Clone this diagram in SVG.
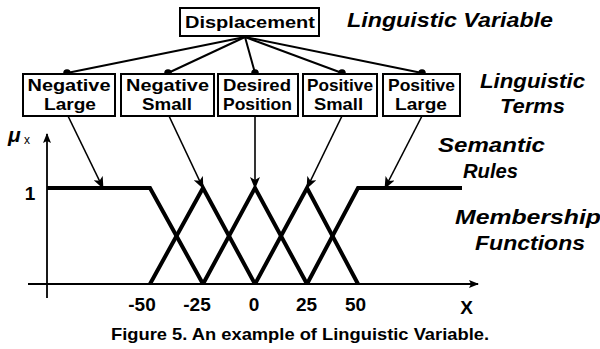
<svg xmlns="http://www.w3.org/2000/svg" width="600" height="349" viewBox="0 0 600 349">
<style>
.box{fill:#fff;stroke:#000;stroke-width:2}
.bt{font-family:"Liberation Sans",Arial,sans-serif;font-weight:bold;font-size:16.5px;text-anchor:middle;fill:#000}
.lab{font-family:"Liberation Sans",Arial,sans-serif;font-weight:bold;font-style:italic;font-size:21px;fill:#000}
.num{font-family:"Liberation Sans",Arial,sans-serif;font-weight:bold;font-size:19px;text-anchor:middle;fill:#000}
.tree{stroke:#000;stroke-width:2;fill:none}
.arr{stroke:#000;stroke-width:1.6;fill:none;marker-end:url(#ah)}
.mf{stroke:#000;stroke-width:4;fill:none;stroke-linejoin:miter}
.ax{stroke:#000;stroke-width:1.8;fill:none}
</style>
<defs>
<marker id="ah" markerWidth="12" markerHeight="10" refX="11" refY="5" orient="auto" markerUnits="userSpaceOnUse">
<path d="M0,0 L12,5 L0,10 L3,5 Z" fill="#000"/>
</marker>
<marker id="axh" markerWidth="10" markerHeight="8" refX="9" refY="4" orient="auto" markerUnits="userSpaceOnUse">
<path d="M0,0 L10,4 L0,8 L2,4 Z" fill="#000"/>
</marker>
</defs>

<g id="connectors">
<line class="tree" x1="245" y1="37" x2="67" y2="73"/>
<line class="tree" x1="245" y1="37" x2="168" y2="73"/>
<line class="tree" x1="245" y1="37" x2="255" y2="73"/>
<line class="tree" x1="245" y1="37" x2="342" y2="73"/>
<line class="tree" x1="245" y1="37" x2="422" y2="73"/>
<circle cx="67" cy="73" r="3.8"/>
<circle cx="168" cy="73" r="3.8"/>
<circle cx="255" cy="73" r="3.8"/>
<circle cx="342" cy="73" r="3.8"/>
<circle cx="422" cy="73" r="3.8"/>
<line class="arr" x1="68" y1="116" x2="103" y2="188"/>
<line class="arr" x1="169" y1="116" x2="203" y2="188"/>
<line class="arr" x1="255" y1="116" x2="255" y2="188"/>
<line class="arr" x1="342" y1="116" x2="307" y2="188"/>
<line class="arr" x1="422" y1="116" x2="385" y2="188"/>
</g>

<g id="displacement">
<rect class="box" x="180" y="8" width="139" height="28"/>
<text class="bt" x="250" y="28" font-size="18" textLength="130" lengthAdjust="spacingAndGlyphs">Displacement</text>
</g>
<g id="negative-large">
<rect class="box" x="23" y="74" width="92" height="42"/>
<text class="bt" x="69" y="91" textLength="83" lengthAdjust="spacingAndGlyphs">Negative</text>
<text class="bt" x="70" y="110" textLength="52" lengthAdjust="spacingAndGlyphs">Large</text>
</g>
<g id="negative-small">
<rect class="box" x="121" y="74" width="93" height="42"/>
<text class="bt" x="167.5" y="91" textLength="83" lengthAdjust="spacingAndGlyphs">Negative</text>
<text class="bt" x="167" y="110" textLength="50" lengthAdjust="spacingAndGlyphs">Small</text>
</g>
<g id="desired-position">
<rect class="box" x="218" y="74" width="80" height="42"/>
<text class="bt" x="257" y="91" textLength="68" lengthAdjust="spacingAndGlyphs">Desired</text>
<text class="bt" x="257.5" y="110" textLength="69" lengthAdjust="spacingAndGlyphs">Position</text>
</g>
<g id="positive-small">
<rect class="box" x="303" y="74" width="74" height="42"/>
<text class="bt" x="340" y="91" textLength="66" lengthAdjust="spacingAndGlyphs">Positive</text>
<text class="bt" x="338.5" y="110" textLength="49" lengthAdjust="spacingAndGlyphs">Small</text>
</g>
<g id="positive-large">
<rect class="box" x="383" y="74" width="77" height="42"/>
<text class="bt" x="421.5" y="91" textLength="67" lengthAdjust="spacingAndGlyphs">Positive</text>
<text class="bt" x="421" y="110" textLength="52" lengthAdjust="spacingAndGlyphs">Large</text>
</g>

<g id="labels">
<text class="lab" x="347" y="27" textLength="206" lengthAdjust="spacingAndGlyphs">Linguistic Variable</text>
<text class="lab" x="480" y="88" textLength="105" lengthAdjust="spacingAndGlyphs">Linguistic</text>
<text class="lab" x="500" y="113" textLength="65" lengthAdjust="spacingAndGlyphs">Terms</text>
<text class="lab" x="438" y="152" textLength="107" lengthAdjust="spacingAndGlyphs">Semantic</text>
<text class="lab" x="463" y="178" textLength="55" lengthAdjust="spacingAndGlyphs">Rules</text>
<text class="lab" x="455" y="224" textLength="146" lengthAdjust="spacingAndGlyphs">Membership</text>
<text class="lab" x="475" y="250" textLength="110" lengthAdjust="spacingAndGlyphs">Functions</text>
</g>

<g id="axes">
<line class="ax" x1="47" y1="298" x2="47" y2="134" marker-end="url(#axh)"/>
<line class="ax" x1="28" y1="284" x2="478" y2="284" marker-end="url(#axh)"/>
<text x="8" y="142" font-family="'Liberation Sans',Arial,sans-serif" font-style="italic" font-weight="bold" font-size="21">μ</text>
<text x="24" y="144" font-family="'Liberation Sans',Arial,sans-serif" font-size="12">x</text>
<text class="num" x="30" y="200" font-size="24">1</text>
<text class="num" x="142" y="311">-50</text>
<text class="num" x="197" y="311">-25</text>
<text class="num" x="254" y="311">0</text>
<text class="num" x="306.5" y="311">25</text>
<text class="num" x="355.5" y="311">50</text>
<text class="num" x="466.5" y="314" font-size="23" font-weight="normal">X</text>
</g>

<g id="membership-functions">
<polyline class="mf" points="47,188 150,188 203,284"/>
<polyline class="mf" points="150,284 203,188 255,284"/>
<polyline class="mf" points="203,284 255,188 307,284"/>
<polyline class="mf" points="255,284 307,188 358,284"/>
<polyline class="mf" points="307,284 358,188 462,188"/>
</g>

<g id="caption">
<text x="300" y="340" font-family="'Liberation Sans',Arial,sans-serif" font-weight="bold" font-size="17" text-anchor="middle" textLength="378" lengthAdjust="spacingAndGlyphs">Figure 5. An example of Linguistic Variable.</text>
</g>
</svg>
